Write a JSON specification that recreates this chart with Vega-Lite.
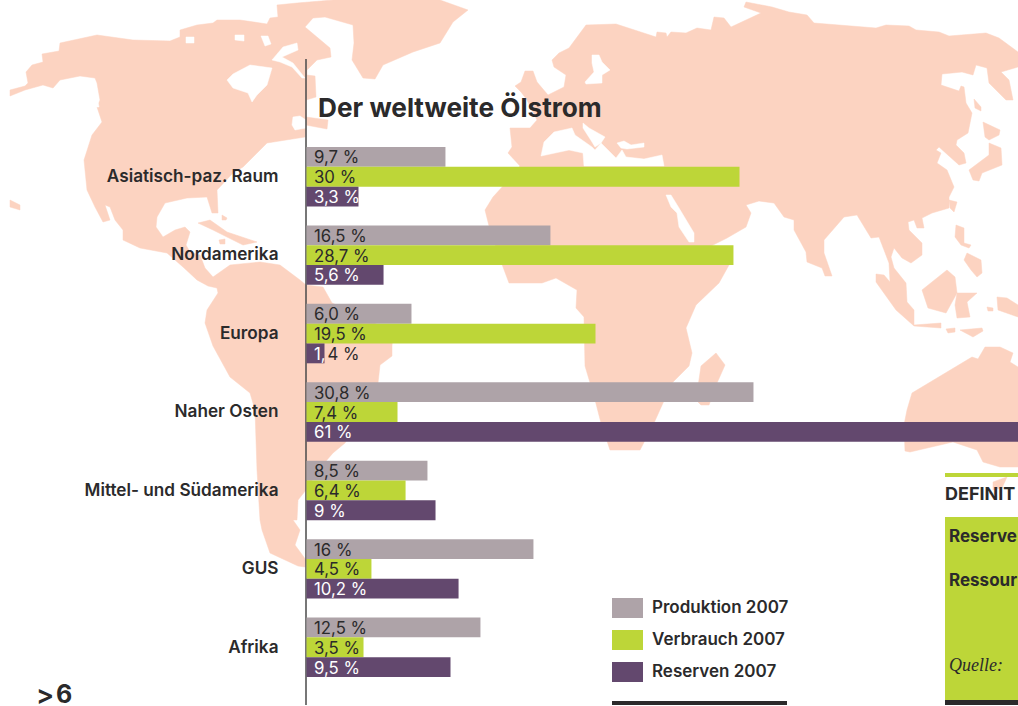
{"$schema":"https://vega.github.io/schema/vega-lite/v6.json","width":1018,"height":706,"padding":0,"autosize":{"type":"fit","contains":"padding"},"background":"#ffffff","view":{"stroke":null},
"datasets":{
"land":[
{"p":"amerika","pts":[[10,90],[25,86],[28,83],[26,72],[32,65],[43,62],[42,54],[59,51],[60,43],[97,35],[133,40],[170,41],[180,37],[180,30],[197,25],[213,23],[217,20],[240,20],[267,24],[270,18],[278,17],[277,5],[297,3],[333,0],[440,0],[468,10],[453,22],[440,43],[413,52],[383,65],[375,79],[363,78],[352,60],[354,43],[353,25],[325,17],[313,18],[305,27],[330,48],[331,57],[317,60],[307,70],[307,75],[315,76],[316,97],[306,100],[306,117],[328,120],[327,129],[306,125],[305,137],[267,143],[257,153],[243,167],[233,173],[217,190],[218,213],[212,213],[207,197],[187,198],[165,203],[157,217],[156,227],[163,237],[175,230],[185,227],[190,232],[186,245],[190,252],[200,255],[205,268],[213,277],[230,265],[260,262],[280,265],[300,280],[306,285],[323,287],[332,303],[360,315],[393,333],[392,346],[392,356],[380,365],[378,383],[345,443],[333,453],[320,468],[306,490],[298,500],[297,520],[293,520],[300,530],[295,545],[306,560],[305,567],[298,566],[270,553],[262,530],[260,520],[257,470],[255,410],[250,393],[230,377],[213,346],[205,323],[207,310],[218,293],[217,288],[208,286],[197,280],[183,267],[167,253],[140,248],[123,240],[123,230],[115,220],[110,207],[105,205],[110,220],[103,222],[95,207],[87,190],[84,160],[92,135],[102,122],[97,107],[100,100],[97,83],[95,78],[80,76],[60,80],[53,88],[43,85],[25,90],[10,96]]},
{"p":"eurasien-afrika","pts":[[552,60],[559,53],[569,48],[586,25],[616,24],[656,37],[657,32],[666,33],[667,37],[671,32],[686,33],[697,28],[711,30],[714,17],[724,18],[731,27],[761,13],[744,7],[746,2],[772,7],[789,12],[807,15],[814,23],[876,28],[886,25],[909,26],[916,30],[939,32],[949,36],[986,33],[999,38],[1018,52],[1018,67],[1001,72],[1009,80],[1013,100],[1006,100],[989,83],[987,68],[976,65],[973,75],[962,72],[942,74],[941,85],[959,91],[961,86],[964,87],[966,103],[972,113],[968,133],[957,140],[956,145],[964,153],[966,163],[959,165],[939,147],[936,150],[941,153],[937,163],[947,170],[954,187],[949,197],[949,208],[932,213],[922,218],[924,228],[917,228],[914,220],[908,222],[909,230],[922,243],[922,255],[911,263],[902,258],[894,248],[891,257],[894,268],[906,283],[907,302],[914,310],[914,325],[941,323],[941,328],[914,326],[896,310],[876,282],[876,274],[884,275],[890,282],[889,263],[879,237],[871,238],[857,215],[844,217],[824,240],[824,253],[832,276],[825,276],[822,268],[807,262],[806,252],[794,230],[794,220],[784,217],[774,203],[759,201],[746,205],[751,213],[746,227],[727,238],[709,247],[729,265],[719,283],[696,305],[686,328],[692,353],[689,366],[672,383],[654,423],[640,450],[610,450],[601,423],[594,396],[585,366],[584,317],[576,308],[577,290],[556,278],[542,283],[509,283],[503,267],[490,230],[485,210],[493,197],[503,186],[520,166],[508,153],[512,147],[510,128],[530,128],[537,120],[527,100],[521,92],[515,86],[521,82],[525,71],[533,71],[537,82],[548,95],[564,87],[566,75],[554,67]]},
{"p":"madagaskar","pts":[[701,366],[716,353],[725,365],[717,383],[709,405],[701,405],[696,400]]},
{"p":"australien","pts":[[912,393],[972,357],[978,359],[985,347],[1000,347],[1013,353],[1010,362],[1018,367],[1018,467],[1000,467],[983,462],[977,450],[953,442],[910,452],[905,451],[904,425],[907,410]]},
{"p":"tasmanien","pts":[[993,482],[1007,477],[1002,488],[993,490]]},
{"p":"honshu","pts":[[989,143],[1001,148],[1002,165],[982,173],[979,181],[973,180],[969,170],[989,155]]},
{"p":"hokkaido","pts":[[983,122],[1000,130],[999,135],[989,140],[985,137]]},
{"p":"sachalin","pts":[[974,99],[981,107],[981,111],[975,108]]},
{"p":"taiwan","pts":[[949,200],[957,202],[954,212],[950,208]]},
{"p":"luzon","pts":[[956,225],[964,228],[964,243],[971,245],[969,248],[961,245],[955,237]]},
{"p":"mindanao","pts":[[967,253],[981,260],[982,273],[977,277],[971,270],[964,260]]},
{"p":"borneo","pts":[[922,290],[947,270],[955,277],[957,293],[946,313],[928,308]]},
{"p":"celebes","pts":[[957,293],[977,293],[967,302],[970,317],[957,318],[955,305]]},
{"p":"neuguinea","pts":[[997,297],[1007,298],[1018,305],[1018,317],[998,310]]},
{"p":"molukken","pts":[[987,307],[993,308],[993,311],[988,311]]},
{"p":"timor","pts":[[960,330],[982,328],[983,331],[973,337]]},
{"p":"flores","pts":[[946,329],[955,328],[955,332],[948,333]]},
{"p":"kuba","pts":[[198,223],[210,220],[227,232],[257,242],[243,245],[227,237],[213,230]]},
{"p":"hispaniola","pts":[[219,240],[225,239],[225,244],[220,244]]},
{"p":"bahamas","pts":[[222,215],[227,218],[226,220],[222,220]]},
{"p":"hawaii","pts":[[10,200],[20,205],[20,210],[10,207]]}
],
"water":[
{"p":"hudson","pts":[[227,80],[233,74],[250,65],[272,68],[267,85],[257,95],[252,102],[248,93],[233,88]]},
{"p":"foxe","pts":[[272,60],[283,47],[297,43],[298,50],[282,57],[293,63],[305,78],[302,78],[292,67],[280,62]]},
{"p":"v1","pts":[[90,97],[97,97],[99,107],[92,107]]},
{"p":"a1","pts":[[186,37],[194,37],[194,43],[186,43]]},
{"p":"a2","pts":[[235,35],[244,35],[244,41],[235,40]]},
{"p":"a3","pts":[[261,36],[268,36],[271,44],[265,46]]},
{"p":"lorenz","pts":[[293,117],[300,116],[306,120],[306,128],[295,130],[292,125]]},
{"p":"ostsee","pts":[[592,55],[599,55],[602,62],[610,70],[602,75],[602,83],[586,84],[585,82],[594,72],[592,63]]},
{"p":"mittelmeer","pts":[[541,156],[544,142],[554,132],[572,128],[575,135],[592,147],[595,150],[601,143],[616,158],[622,150],[626,157],[644,159],[662,155],[664,166],[584,166],[583,153],[569,150]]},
{"p":"adria","pts":[[583,123],[589,128],[605,137],[601,143],[595,147],[592,142],[583,128]]},
{"p":"schwarzes","pts":[[617,143],[624,141],[631,145],[644,143],[644,147],[627,149],[621,148]]},
{"p":"persisch","pts":[[666,195],[671,195],[679,208],[694,233],[694,242],[689,242],[679,227],[677,213],[671,207]]}
],
"boxes":[
{"art":"Linie","x":612,"x2":787,"y":701,"y2":705},
{"art":"Linie","x":945,"x2":1018,"y":700,"y2":705},
{"art":"Fläche","x":945,"x2":1018,"y":517,"y2":700},
{"art":"Fläche","x":945,"x2":1018,"y":473,"y2":477}
],
"werte":[
{"region":"Asiatisch-paz. Raum","serie":"Produktion 2007","label":"9,7 %","balken":9.65},
{"region":"Asiatisch-paz. Raum","serie":"Verbrauch 2007","label":"30 %","balken":30.07},
{"region":"Asiatisch-paz. Raum","serie":"Reserven 2007","label":"3,3 %","balken":3.61},
{"region":"Nordamerika","serie":"Produktion 2007","label":"16,5 %","balken":16.94},
{"region":"Nordamerika","serie":"Verbrauch 2007","label":"28,7 %","balken":29.65},
{"region":"Nordamerika","serie":"Reserven 2007","label":"5,6 %","balken":5.35},
{"region":"Europa","serie":"Produktion 2007","label":"6,0 %","balken":7.29},
{"region":"Europa","serie":"Verbrauch 2007","label":"19,5 %","balken":20.07},
{"region":"Europa","serie":"Reserven 2007","label":"1,4 %","balken":1.25},
{"region":"Naher Osten","serie":"Produktion 2007","label":"30,8 %","balken":31.04},
{"region":"Naher Osten","serie":"Verbrauch 2007","label":"7,4 %","balken":6.32},
{"region":"Naher Osten","serie":"Reserven 2007","label":"61 %","balken":61},
{"region":"Mittel- und Südamerika","serie":"Produktion 2007","label":"8,5 %","balken":8.4},
{"region":"Mittel- und Südamerika","serie":"Verbrauch 2007","label":"6,4 %","balken":6.88},
{"region":"Mittel- und Südamerika","serie":"Reserven 2007","label":"9 %","balken":8.96},
{"region":"GUS","serie":"Produktion 2007","label":"16 %","balken":15.76},
{"region":"GUS","serie":"Verbrauch 2007","label":"4,5 %","balken":4.51},
{"region":"GUS","serie":"Reserven 2007","label":"10,2 %","balken":10.56},
{"region":"Afrika","serie":"Produktion 2007","label":"12,5 %","balken":12.08},
{"region":"Afrika","serie":"Verbrauch 2007","label":"3,5 %","balken":3.96},
{"region":"Afrika","serie":"Reserven 2007","label":"9,5 %","balken":10.0}
]},
"resolve":{"scale":{"x":"independent","y":"independent"}},
"layer":[
{"encoding":{
"x":{"field":"x","type":"quantitative","axis":null,"scale":{"domain":[0,1018],"nice":false,"zero":false}},
"y":{"field":"y","type":"quantitative","axis":null,"scale":{"domain":[706,0],"nice":false,"zero":false}}},
"layer":[
{"data":{"name":"land"},"transform":[{"flatten":["pts"]},{"window":[{"op":"row_number","as":"i"}]}],"mark":{"type":"line","interpolate":"linear-closed","fill":"#fcd3c1","stroke":"#fcd3c1","strokeWidth":0.5,"clip":true},"encoding":{"x":{"field":"pts[0]","type":"quantitative","axis":null,"scale":{"domain":[0,1018],"nice":false,"zero":false}},"y":{"field":"pts[1]","type":"quantitative","axis":null,"scale":{"domain":[706,0],"nice":false,"zero":false}},"detail":{"field":"p"},"order":{"field":"i","type":"quantitative"}}},
{"data":{"name":"water"},"transform":[{"flatten":["pts"]},{"window":[{"op":"row_number","as":"i"}]}],"mark":{"type":"line","interpolate":"linear-closed","fill":"#ffffff","stroke":"#ffffff","strokeWidth":0.5,"clip":true},"encoding":{"x":{"field":"pts[0]","type":"quantitative","axis":null,"scale":{"domain":[0,1018],"nice":false,"zero":false}},"y":{"field":"pts[1]","type":"quantitative","axis":null,"scale":{"domain":[706,0],"nice":false,"zero":false}},"detail":{"field":"p"},"order":{"field":"i","type":"quantitative"}}},
{"data":{"name":"boxes"},"mark":{"type":"rect","clip":true},"encoding":{"x2":{"field":"x2"},"y2":{"field":"y2"},"fill":{"condition":{"test":"datum.art==='Linie'","value":"#2b2a2b"},"value":"#bdd638"}}},
{"data":{"values":[{"x":306,"y":59,"y2":705}]},"mark":{"type":"rule","color":"#4a4a4a","strokeWidth":1.5,"clip":true},"encoding":{"y2":{"field":"y2"}}},
{"data":{"values":[{"t":"Der weltweite Ölstrom","x":318,"y":117}]},"mark":{"type":"text","align":"left","baseline":"alphabetic","font":"Inter","fontWeight":700,"fontSize":26.2,"color":"#2b2a2b","clip":true},"encoding":{"text":{"field":"t"}}},
{"data":{"values":[{"t":"6","x":56,"y":703}]},"mark":{"type":"text","align":"left","baseline":"alphabetic","font":"Inter","fontWeight":700,"fontSize":25,"color":"#2b2a2b","clip":true},"encoding":{"text":{"field":"t"}}},
{"data":{"values":[{"t":">","x":36,"y":704}]},"mark":{"type":"text","align":"left","baseline":"alphabetic","font":"Inter","fontWeight":600,"fontSize":27,"color":"#2b2a2b","clip":true},"encoding":{"text":{"field":"t"}}},
{"data":{"values":[{"t":"DEFINIT","x":945,"y":500}]},"mark":{"type":"text","align":"left","baseline":"alphabetic","font":"Inter","fontWeight":700,"fontSize":18,"color":"#2b2a2b","clip":true},"encoding":{"text":{"field":"t"}}},
{"data":{"values":[{"t":"Reserve","x":949,"y":542},{"t":"Ressour","x":949,"y":586}]},"mark":{"type":"text","align":"left","baseline":"alphabetic","font":"Inter","fontWeight":700,"fontSize":17,"color":"#2b2a2b","clip":true},"encoding":{"text":{"field":"t"}}},
{"data":{"values":[{"t":"Quelle:","x":949,"y":671}]},"mark":{"type":"text","align":"left","baseline":"alphabetic","font":"Liberation Serif","fontStyle":"italic","fontSize":18,"color":"#2b2a2b","clip":true},"encoding":{"text":{"field":"t"}}}
]},
{"data":{"name":"werte"},"encoding":{
"x":{"field":"balken","type":"quantitative","axis":null,"scale":{"domain":[-21.285,49.41],"nice":false,"zero":false}},
"y":{"field":"region","type":"nominal","axis":null,"sort":null,"scale":{"range":[147,677],"paddingInner":0.242,"paddingOuter":0}},
"yOffset":{"field":"serie","type":"nominal","sort":["Produktion 2007","Verbrauch 2007","Reserven 2007"],"scale":{"paddingInner":0,"paddingOuter":0}}},
"layer":[
{"mark":{"type":"bar","clip":true},"encoding":{"x2":{"datum":0},"color":{"field":"serie","type":"nominal","sort":["Produktion 2007","Verbrauch 2007","Reserven 2007"],"scale":{"domain":["Produktion 2007","Verbrauch 2007","Reserven 2007"],"range":["#aea3a8","#bdd638","#63486e"]},"legend":{"title":null,"orient":"none","legendX":617.5,"legendY":598,"symbolType":"M-1.55,-1H1.55V1H-1.55Z","symbolSize":400,"symbolStrokeWidth":0,"rowPadding":12,"labelFont":"Inter","labelFontWeight":600,"labelFontSize":17,"labelColor":"#2b2a2b","labelOffset":14.5}}}},
{"transform":[{"filter":"datum.label!=='1,4 %'"}],"mark":{"type":"text","align":"left","baseline":"middle","dx":7.5,"dy":1.5,"font":"Inter","fontSize":16.8,"clip":true},"encoding":{"x":{"datum":0},"text":{"field":"label"},"color":{"condition":{"test":"datum.serie==='Reserven 2007'","value":"#ffffff"},"value":"#2b2a2b"}}},
{"transform":[{"filter":"datum.label==='1,4 %'"}],"mark":{"type":"text","align":"left","baseline":"middle","dx":7.5,"dy":1.5,"font":"Inter","fontSize":16.8,"color":"#ffffff","clip":true},"encoding":{"x":{"datum":0},"text":{"value":"1,"}}},
{"transform":[{"filter":"datum.label==='1,4 %'"}],"mark":{"type":"text","align":"left","baseline":"middle","dx":21,"dy":1.5,"font":"Inter","fontSize":16.8,"color":"#2b2a2b","clip":true},"encoding":{"x":{"datum":0},"text":{"value":"4 %"}}},
{"transform":[{"filter":"datum.serie==='Produktion 2007'"}],"mark":{"type":"text","align":"right","baseline":"middle","dx":-28,"font":"Inter","fontWeight":600,"fontSize":17.2,"color":"#2b2a2b","clip":true},"encoding":{"x":{"datum":0},"yOffset":{"value":30},"text":{"field":"region"}}}
]}
]}
